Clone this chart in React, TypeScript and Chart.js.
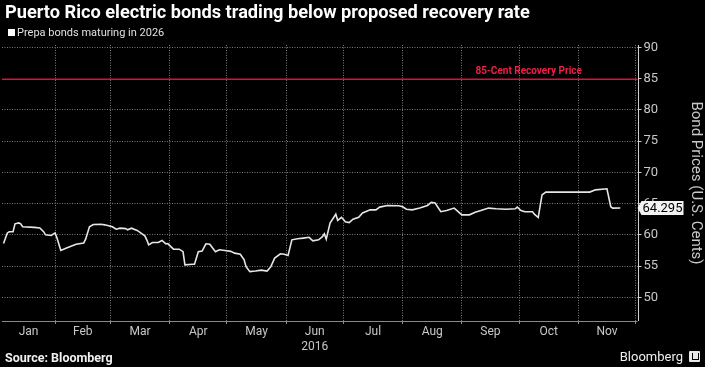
import React, { useEffect, useRef } from 'react';
import { Chart, registerables } from 'chart.js';

Chart.register(...registerables);

const TITLE = 'Puerto Rico electric bonds trading below proposed recovery rate';
const SERIES_LABEL = 'Prepa bonds maturing in 2026';
const SOURCE = 'Source: Bloomberg';
const BRAND = 'Bloomberg';
const Y_TITLE = 'Bond Prices (U.S. Cents)';
const YEAR = 2016;

const MONTH_LABELS = ['Jan', 'Feb', 'Mar', 'Apr', 'May', 'Jun', 'Jul', 'Aug', 'Sep', 'Oct', 'Nov'];
const YEAR_LABEL_MONTH = 'Jun';
const Y_TICKS = [50, 55, 60, 65, 70, 75, 80, 85, 90];

const RECOVERY_PRICE = 85;
const RECOVERY_LABEL = '85-Cent Recovery Price';
const LAST_PRICE = 64.295;

const DATES = [
  '01-05', '01-07', '01-08', '01-10', '01-11', '01-13', '01-14', '01-15', '01-21', '01-24',
  '01-26', '01-27', '01-30', '02-01', '02-02', '02-04', '02-07', '02-12', '02-16', '02-17',
  '02-19', '02-21', '02-25', '02-27', '03-02', '03-04', '03-06', '03-09', '03-10', '03-12',
  '03-15', '03-17', '03-19', '03-20', '03-21', '03-23', '03-26', '03-28', '03-30', '03-31',
  '04-03', '04-06', '04-08', '04-09', '04-13', '04-14', '04-16', '04-18', '04-20', '04-22',
  '04-25', '04-27', '04-30', '05-03', '05-05', '05-08', '05-10', '05-11', '05-13', '05-16',
  '05-19', '05-22', '05-24', '05-26', '05-29', '05-31', '06-02', '06-04', '06-07', '06-10',
  '06-13', '06-15', '06-18', '06-20', '06-21', '06-22', '06-24', '06-27', '06-28', '06-30',
  '07-02', '07-04', '07-06', '07-09', '07-11', '07-15', '07-18', '07-20', '07-24', '07-30',
  '08-01', '08-03', '08-06', '08-10', '08-14', '08-16', '08-18', '08-21', '08-24', '08-28',
  '09-01', '09-05', '09-08', '09-11', '09-15', '09-19', '09-24', '09-29', '09-30', '10-02',
  '10-04', '10-08', '10-09', '10-11', '10-13', '10-15', '11-07', '11-10', '11-16', '11-18',
  '11-19', '11-23',
];

const PRICES = [
  58.6, 60.3, 60.5, 60.5, 61.76, 61.9, 61.76, 61.3, 61.2, 61.1,
  60.5, 60.0, 59.9, 60.3, 59.5, 57.5, 57.9, 58.5, 58.7, 59.3,
  61.3, 61.65, 61.7, 61.6, 61.3, 60.9, 61.07, 61.0, 60.8, 61.07,
  60.7, 60.27, 59.84, 59.2, 58.4, 58.77, 58.77, 59.09, 58.56, 58.6,
  57.7, 57.7, 57.3, 55.2, 55.3, 55.3, 57.3, 57.4, 58.56, 58.5,
  57.3, 57.6, 57.5, 57.35, 57.07, 56.9, 56.0, 54.9, 54.1, 54.2,
  54.34, 54.2, 54.9, 56.27, 56.96, 56.9, 56.7, 59.2, 59.36, 59.47,
  59.6, 59.04, 59.2, 59.7, 60.16, 59.3, 61.9, 63.3, 62.3, 62.8,
  62.1, 61.97, 62.5, 62.8, 63.5, 64.0, 64.0, 64.44, 64.7, 64.65,
  64.5, 64.1, 64.0, 64.28, 64.7, 65.2, 65.1, 63.7, 63.9, 64.28,
  63.2, 63.2, 63.6, 63.9, 64.28, 64.17, 64.1, 64.17, 64.44, 63.9,
  63.7, 63.7, 63.3, 62.77, 66.4, 66.84, 66.84, 67.2, 67.37, 64.5,
  64.28, 64.295,
];

const DAY_MS = 86400000;
const dayOfYear = (mmdd: string) => {
  const [m, d] = mmdd.split('-').map(Number);
  return (Date.UTC(YEAR, m - 1, d) - Date.UTC(YEAR, 0, 1)) / DAY_MS;
};
const monthStart = (m: number) => (Date.UTC(YEAR, m, 1) - Date.UTC(YEAR, 0, 1)) / DAY_MS;

const X_MIN = 3.2;
const X_MAX = 336;
const Y_MIN = 46.2;
const Y_MAX = 90.4;

const FONT = 'Roboto, "Liberation Sans", sans-serif';
const GRID = '#7a7a7a';
const GRID_DASH = [1, 1.5];

export default function App() {
  const ref = useRef<HTMLCanvasElement | null>(null);

  useEffect(() => {
    document.body.style.margin = '0';
    document.body.style.background = '#000';
    const canvas = ref.current;
    if (!canvas) return;

    const boundaries = MONTH_LABELS.map((_, i) => monthStart(i + 1));
    const mids = MONTH_LABELS.map((_, i) => {
      const s = Math.max(monthStart(i), X_MIN);
      const e = Math.min(monthStart(i + 1), X_MAX);
      return (s + e) / 2;
    });
    const isBoundary = (v: number) => boundaries.some((b) => Math.abs(b - v) < 1e-6);

    const overlay = {
      id: 'overlay',
      afterDatasetsDraw(chart: any) {
        const { ctx, chartArea } = chart;
        const y = chart.scales.y;
        ctx.save();
        ctx.setLineDash([]);
        ctx.lineDashOffset = 0;
        // recovery line
        const ryRaw = y.getPixelForValue(RECOVERY_PRICE);
        ctx.fillStyle = '#e0103a';
        ctx.fillRect(chartArea.left, Math.round(ryRaw) - 0.5, chartArea.right - chartArea.left, 1.5);
        const ry = Math.round(ryRaw);
        ctx.fillStyle = '#f0204a';
        ctx.font = 'bold 10px ' + FONT;
        ctx.textAlign = 'center';
        ctx.textBaseline = 'middle';
        const xs = chart.scales.x;
        ctx.fillText(RECOVERY_LABEL, xs.getPixelForValue(mids[8] + 20), ry - 8);
        // axis lines
        ctx.strokeStyle = '#cfcfcf';
        ctx.lineWidth = 1;
        ctx.beginPath();
        ctx.moveTo(Math.round(chartArea.right) + 0.5, chartArea.top);
        ctx.lineTo(Math.round(chartArea.right) + 0.5, chartArea.bottom);
        ctx.stroke();
        ctx.strokeStyle = '#8a8a8a';
        ctx.beginPath();
        ctx.moveTo(chartArea.left, Math.round(chartArea.bottom) + 0.5);
        ctx.lineTo(chartArea.right, Math.round(chartArea.bottom) + 0.5);
        ctx.stroke();
        // last price box
        const ly = y.getPixelForValue(LAST_PRICE);
        const bx = chartArea.right + 4;
        const bw = 42;
        const bh = 14;
        ctx.fillStyle = '#f2f2f2';
        ctx.beginPath();
        ctx.moveTo(chartArea.right, ly);
        ctx.lineTo(bx, ly - bh / 2);
        ctx.lineTo(bx + bw, ly - bh / 2);
        ctx.lineTo(bx + bw, ly + bh / 2);
        ctx.lineTo(bx, ly + bh / 2);
        ctx.closePath();
        ctx.fill();
        ctx.fillStyle = '#000';
        ctx.font = '13px ' + FONT;
        ctx.textAlign = 'center';
        ctx.fillText(String(LAST_PRICE), bx + bw / 2, ly + 1);
        ctx.restore();
      },
    };

    const chart = new Chart(canvas, {
      type: 'line',
      data: {
        datasets: [
          {
            label: SERIES_LABEL,
            data: DATES.map((d, i) => ({ x: dayOfYear(d), y: PRICES[i] })),
            borderColor: '#e6e6e6',
            borderWidth: 1.6,
            pointRadius: 0,
            tension: 0,
            fill: false,
          },
        ],
      },
      options: {
        animation: false,
        responsive: false,
        maintainAspectRatio: false,
        layout: { padding: { top: 45, left: 2, right: 0, bottom: 0 } },
        plugins: {
          legend: { display: false },
          tooltip: { enabled: false },
          title: { display: false },
        },
        scales: {
          x: {
            type: 'linear',
            min: X_MIN,
            max: X_MAX,
            afterBuildTicks: (scale: any) => {
              const vals = [...boundaries, ...mids].sort((a, b) => a - b);
              scale.ticks = vals.map((v) => ({ value: v }));
            },
            afterFit: (scale: any) => {
              scale.height = 46;
            },
            ticks: {
              autoSkip: false,
              maxRotation: 0,
              minRotation: 0,
              padding: 0,
              color: '#c8c8c8',
              font: { family: FONT, size: 12, lineHeight: 1.25 },
              callback: (v: any) => {
                const idx = mids.findIndex((m) => Math.abs(m - v) < 1e-6);
                if (idx < 0) return '';
                const lbl = MONTH_LABELS[idx];
                return lbl === YEAR_LABEL_MONTH ? [lbl, String(YEAR)] : lbl;
              },
            },
            grid: {
              color: (c: any) => (c.tick && isBoundary(c.tick.value) ? GRID : 'rgba(0,0,0,0)'),
              tickColor: (c: any) => (c.tick && isBoundary(c.tick.value) ? '#8a8a8a' : 'rgba(0,0,0,0)'),
              lineWidth: 1,
              tickLength: 3,
            },
            border: { display: false, dash: GRID_DASH },
          },
          y: {
            type: 'linear',
            position: 'right',
            min: Y_MIN,
            max: Y_MAX,
            afterBuildTicks: (scale: any) => {
              scale.ticks = Y_TICKS.map((v) => ({ value: v }));
            },
            afterFit: (scale: any) => {
              scale.width = 67.5;
            },
            ticks: {
              padding: 2,
              color: '#c8c8c8',
              font: { family: FONT, size: 13 },
            },
            grid: {
              color: (c: any) => (c.tick && c.tick.value === RECOVERY_PRICE ? 'rgba(0,0,0,0)' : GRID),
              tickColor: '#cfcfcf',
              lineWidth: 1,
              tickLength: 4,
            },
            border: { display: false, dash: GRID_DASH },
            title: {
              display: true,
              text: Y_TITLE,
              color: '#c8c8c8',
              font: { family: FONT, size: 15 },
              padding: { top: 0, bottom: 5 },
            },
          },
        },
      },
      plugins: [overlay],
    } as any);

    return () => chart.destroy();
  }, []);

  return (
    <div style={{ position: 'relative', width: 705, height: 367, background: '#000', overflow: 'hidden', fontFamily: FONT }}>
      <canvas ref={ref} width={705} height={367} style={{ position: 'absolute', left: 0, top: 0, width: 705, height: 367 }} />
      <div style={{ position: 'absolute', left: 5, top: 0, color: '#fff', fontWeight: 700, fontSize: 18.2, lineHeight: '24px', whiteSpace: 'nowrap' }}>
        {TITLE}
      </div>
      <div style={{ position: 'absolute', left: 8, top: 29, width: 7, height: 7, background: '#fff' }} />
      <div style={{ position: 'absolute', left: 17, top: 26, color: '#e0e0e0', fontSize: 11, lineHeight: '14px', whiteSpace: 'nowrap' }}>
        {SERIES_LABEL}
      </div>
      <div style={{ position: 'absolute', left: 5, top: 351, color: '#f0f0f0', fontWeight: 700, fontSize: 12.5, lineHeight: '14px', whiteSpace: 'nowrap' }}>
        {SOURCE}
      </div>
      <div style={{ position: 'absolute', right: 22, top: 349, color: '#f0f0f0', fontSize: 13, lineHeight: '16px', whiteSpace: 'nowrap' }}>
        {BRAND}
      </div>
      <div style={{ position: 'absolute', left: 689, top: 351, width: 11, height: 11, background: '#e8e8e8', borderRadius: 1 }}>
        <div style={{ position: 'absolute', left: 3, top: 2, width: 5, height: 6, border: '1px solid #000', borderTop: 'none' }} />
      </div>
    </div>
  );
}
